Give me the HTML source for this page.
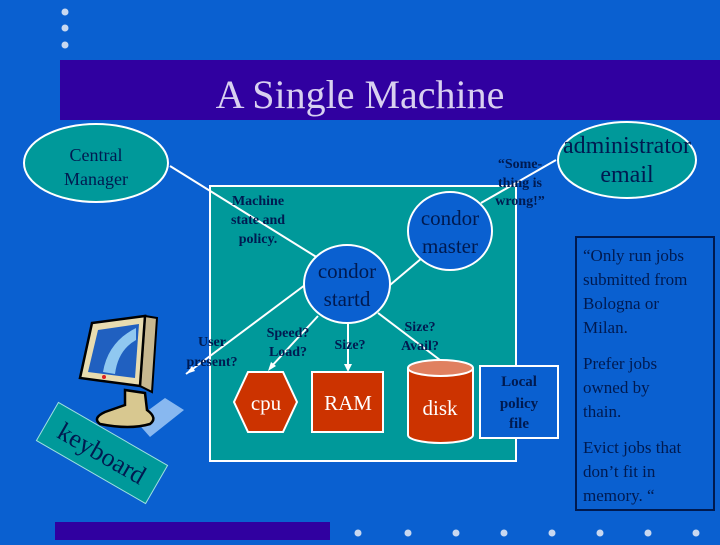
<!DOCTYPE html>
<html><head><meta charset="utf-8"><style>
body{margin:0;width:720px;height:540px;overflow:hidden;background:#0a60d0}
svg text{font-family:"Liberation Serif",serif}
</style></head><body>
<svg width="720" height="540" viewBox="0 0 720 540" xmlns="http://www.w3.org/2000/svg">
<rect width="720" height="540" fill="#0a60d0"/>
<g fill="#c8d8f0"><circle cx="65" cy="12" r="3.5"/><circle cx="65" cy="28" r="3.5"/><circle cx="65" cy="45" r="3.5"/></g>
<rect x="60" y="60" width="660" height="60" fill="#3000a0"/>
<text x="360" y="108" font-size="40" fill="#d8d0f0" text-anchor="middle">A Single Machine</text>
<rect x="55" y="522" width="275" height="18" fill="#3000a0"/>
<g fill="#c8d8f0"><circle cx="358" cy="533" r="3.5"/><circle cx="408" cy="533" r="3.5"/><circle cx="456" cy="533" r="3.5"/><circle cx="504" cy="533" r="3.5"/><circle cx="552" cy="533" r="3.5"/><circle cx="600" cy="533" r="3.5"/><circle cx="648" cy="533" r="3.5"/><circle cx="696" cy="533" r="3.5"/></g>

<rect x="210" y="186" width="306" height="275" fill="#00999a" stroke="#fff" stroke-width="2"/>

<ellipse cx="96" cy="163" rx="72" ry="39" fill="#00999a" stroke="#fff" stroke-width="2"/>
<text x="96" y="161" font-size="18" text-anchor="middle" fill="#001a50">Central</text>
<text x="96" y="185" font-size="18" text-anchor="middle" fill="#001a50">Manager</text>

<g stroke="#fff" stroke-width="2" fill="none">
<line x1="170" y1="166" x2="318" y2="258"/>
<line x1="390" y1="285" x2="422" y2="258"/>
<line x1="481" y1="203" x2="556" y2="160"/>
<line x1="318" y1="316" x2="270" y2="368"/>
<line x1="348" y1="323" x2="348" y2="370"/>
<line x1="378" y1="313" x2="440" y2="360"/>
<line x1="305" y1="285" x2="186" y2="374"/>
</g>
<g fill="#fff"><polygon points="186,374 192,366 195,371"/><polygon points="268,371 271,362 276,366"/><polygon points="348,372 344,364 352,364"/></g>

<ellipse cx="347" cy="284" rx="43" ry="39" fill="#0a60d0" stroke="#fff" stroke-width="2"/>
<text x="347" y="278" font-size="21" text-anchor="middle" fill="#001a50">condor</text>
<text x="347" y="306" font-size="21" text-anchor="middle" fill="#001a50">startd</text>
<ellipse cx="450" cy="231" rx="42" ry="39" fill="#0a60d0" stroke="#fff" stroke-width="2"/>
<text x="450" y="225" font-size="21" text-anchor="middle" fill="#001a50">condor</text>
<text x="450" y="253" font-size="21" text-anchor="middle" fill="#001a50">master</text>

<ellipse cx="627" cy="160" rx="69" ry="38" fill="#00999a" stroke="#fff" stroke-width="2"/>
<text x="627" y="153" font-size="24" text-anchor="middle" fill="#001a50">administrator</text>
<text x="627" y="182" font-size="24" text-anchor="middle" fill="#001a50">email</text>

<g font-size="14" font-weight="bold" fill="#001a50" text-anchor="middle">
<text x="258" y="205">Machine</text><text x="258" y="224">state and</text><text x="258" y="243">policy.</text>
<text x="520" y="168">“Some-</text><text x="520" y="187">thing is</text><text x="520" y="205">wrong!”</text>
<text x="288" y="337">Speed?</text><text x="288" y="356">Load?</text>
<text x="350" y="349">Size?</text>
<text x="420" y="331">Size?</text><text x="420" y="350">Avail?</text>
<text x="212" y="346">User</text><text x="212" y="366">present?</text>
</g>

<polygon points="248,372 283,372 297,402 283,432 248,432 234,402" fill="#cc3300" stroke="#fff" stroke-width="2"/>
<text x="266" y="410" font-size="21" text-anchor="middle" fill="#fff">cpu</text>
<rect x="312" y="372" width="71" height="60" fill="#cc3300" stroke="#fff" stroke-width="2"/>
<text x="348" y="410" font-size="21" text-anchor="middle" fill="#fff">RAM</text>

<path d="M408,368 L408,435 A32.5,8 0 0 0 473,435 L473,368" fill="#cc3300" stroke="#fff" stroke-width="2"/>
<ellipse cx="440.5" cy="368" rx="32.5" ry="8" fill="#e08060" stroke="#fff" stroke-width="2"/>
<text x="440" y="415" font-size="21" text-anchor="middle" fill="#fff">disk</text>

<rect x="480" y="366" width="78" height="72" fill="#0a60d0" stroke="#fff" stroke-width="2"/>
<g font-size="15" font-weight="bold" fill="#001a50" text-anchor="middle"><text x="519" y="386">Local</text><text x="519" y="408">policy</text><text x="519" y="428">file</text></g>

<rect x="576" y="237" width="138" height="273" fill="none" stroke="#001a50" stroke-width="2"/>
<g font-size="17" fill="#001a50">
<text x="583" y="261">“Only run jobs</text><text x="583" y="285">submitted from</text><text x="583" y="309">Bologna or</text><text x="583" y="333">Milan.</text>
<text x="583" y="369">Prefer jobs</text><text x="583" y="393">owned by</text><text x="583" y="417">thain.</text>
<text x="583" y="453">Evict jobs that</text><text x="583" y="477">don’t fit in</text><text x="583" y="501">memory. “</text>
</g>

<!-- monitor -->
<polygon points="135,420 165,398 184,410 150,437" fill="#88b8f0"/>
<path d="M125,390 L145,393 L147,410 Q158,418 150,424 Q130,430 100,424 Q92,418 105,412 L125,405 Z" fill="#d8c890" stroke="#000" stroke-width="2.5"/>
<polygon points="145,316 157,318 152,392 140,386" fill="#c8b890" stroke="#000" stroke-width="2"/>
<polygon points="92,323 145,316 140,386 80,378" fill="#e8dcb0" stroke="#000" stroke-width="2.5"/>
<polygon points="98,330 139,324 135,378 88,372" fill="#2060c0"/>
<path d="M103,372 Q108,342 136,328 L136,340 Q118,350 115,374 Z" fill="#90c8f0"/>
<circle cx="104" cy="377" r="2" fill="#e02020"/>

<g transform="translate(102,453) rotate(30)">
<rect x="-63" y="-22" width="126" height="44" fill="#00999a" stroke="#a0e0e0" stroke-width="1"/>
<text x="0" y="9" font-size="26" text-anchor="middle" fill="#001a50">keyboard</text>
</g>
</svg>
</body></html>
